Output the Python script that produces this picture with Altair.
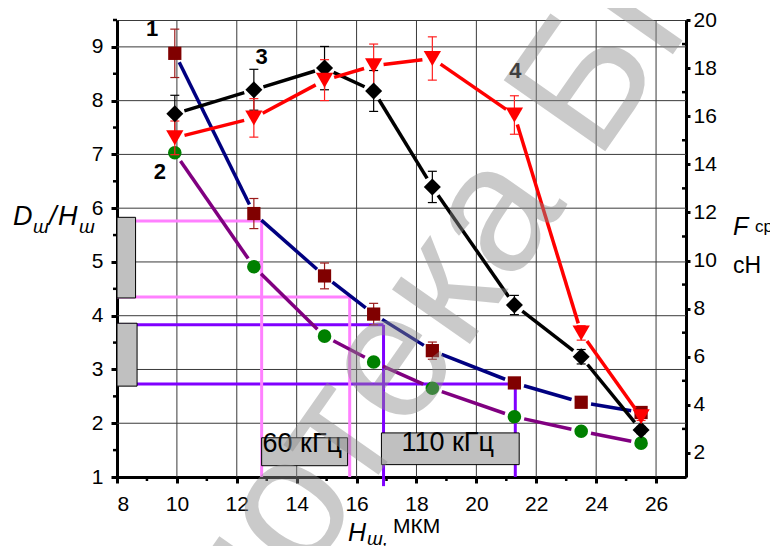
import altair as alt
import pandas as pd

# ---------------- data ----------------
H_sh = [9.93, 12.57, 14.93, 16.57, 18.53, 21.27, 23.5, 25.5]          # x, мкм

dh_1 = [8.88, 5.90, 4.74, 4.03, 3.35, 2.75, 2.39, 2.20]              # curve 1 (left axis)
dh_1_err = [0.45, 0.28, 0.24, 0.20, 0.16, 0.06, 0.05, 0.05]
dh_2 = [7.03, 4.91, 3.62, 3.14, 2.65, 2.12, 1.85, 1.63]              # curve 2 (left axis)

f_3 = [16.1, 17.1, 18.0, 17.05, 13.06, 8.15, 6.0, 2.95]              # curve 3 (right axis)
f_3_err = [0.77, 0.85, 0.9, 0.85, 0.65, 0.4, 0.3, 0.15]
f_4 = [15.1, 15.93, 17.5, 18.1, 18.4, 16.05, 6.99, 3.5]              # curve 4 (right axis)
f_4_err = [0.7, 0.8, 0.85, 0.9, 0.9, 0.8, 0.3, 0.15]

x_ticks = [8, 10, 12, 14, 16, 18, 20, 22, 24, 26]
x_minor = [9, 11, 13, 15, 17, 19, 21, 23, 25]
x_grid = [10, 12, 14, 16, 18, 20, 22, 24, 26]
yl_ticks = [1, 2, 3, 4, 5, 6, 7, 8, 9]
yl_minor = [1.5, 2.5, 3.5, 4.5, 5.5, 6.5, 7.5, 8.5, 9.5]
yl_grid = [2, 3, 4, 5, 6, 7, 8, 9]
yr_ticks = [2, 4, 6, 8, 10, 12, 14, 16, 18, 20]
yr_minor = [3, 5, 7, 9, 11, 13, 15, 17, 19]

curve_labels = ["1", "2", "3", "4"]
curve_label_x = [9.17, 9.43, 12.83, 21.3]
curve_label_y = [9.33, 6.67, 8.81, 8.56]

# frequency guides (left-axis units)
guide_h_x1 = [8, 8, 8, 8]
guide_h_x2 = [12.83, 15.77, 16.9, 21.3]
guide_h_y = [5.76, 4.35, 3.83, 2.73]
guide_v_x = [12.83, 15.77, 16.9, 21.3]
guide_v_y1 = [5.76, 4.35, 3.83, 2.73]
guide_v_y2 = [1.0, 1.0, 0.83, 1.0]
guide_color = ["#FF80FF", "#FF80FF", "#8000FF", "#8000FF"]

box_x1 = [8.0, 8.0, 12.83, 16.83]
box_x2 = [8.62, 8.67, 15.7, 21.43]
box_y1 = [4.33, 2.69, 1.21, 1.23]
box_y2 = [5.83, 3.86, 1.73, 1.82]

freq_text = ["60 кГц", "110 кГц"]
freq_x = [12.86, 17.5]
freq_y = [1.62, 1.64]

watermark = ["Библиотека БГТУ"]
wm_x = [16.9]
wm_y = [5.3]

# ---------------- geometry ----------------
W, Hh = 569, 457
XD, YL, YR = [8, 27], [1, 9.5], [1, 20]
PX = W / (XD[1] - XD[0])
PYL = Hh / (YL[1] - YL[0])
PYR = Hh / (YR[1] - YR[0])
GAP = 10
FONT = "Liberation Sans"
GRID = "#3A3A3A"

xs = alt.Scale(domain=XD, nice=False, zero=False)
yls = alt.Scale(domain=YL, nice=False, zero=False)
yrs = alt.Scale(domain=YR, nice=False, zero=False)

axis_common = dict(domainColor="black", domainWidth=3, tickColor="black", tickWidth=3,
                   labelFont=FONT, labelFontSize=21, labelColor="black", title=None,
                   grid=False)
AX = alt.Axis(values=x_ticks, tickSize=6, labelPadding=10, **axis_common)
AYL = alt.Axis(values=yl_ticks, tickSize=6, labelPadding=8, **axis_common)
AYR = alt.Axis(orient="right", values=yr_ticks, tickSize=4, labelPadding=3, **axis_common)


def X(f):
    return alt.X(f, scale=xs, axis=AX)


def Y(f, ysc):
    return alt.Y(f, scale=ysc, axis=AYL if ysc is yls else AYR)


def sdf(ys, errs=None):
    d = {"x": H_sh, "y": ys}
    d["e"] = errs if errs is not None else [0] * len(ys)
    return pd.DataFrame(d)


d1, d2, d3, d4 = sdf(dh_1, dh_1_err), sdf(dh_2), sdf(f_3, f_3_err), sdf(f_4, f_4_err)


def segs(df, ysc, py, color):
    return alt.Chart(df).transform_window(
        nx="lead(x)", ny="lead(y)", sort=[alt.SortField("x")], frame=[None, None]
    ).transform_filter("isValid(datum.nx)").transform_calculate(
        L=f"sqrt(pow((datum.nx-datum.x)*{PX},2)+pow((datum.ny-datum.y)*{py},2))"
    ).transform_calculate(
        f=f"{GAP}/datum.L"
    ).transform_calculate(
        xa="datum.x+(datum.nx-datum.x)*datum.f",
        ya="datum.y+(datum.ny-datum.y)*datum.f",
        xb="datum.nx-(datum.nx-datum.x)*datum.f",
        yb="datum.ny-(datum.ny-datum.y)*datum.f",
    ).mark_rule(color=color, strokeWidth=3.5).encode(
        x=X("xa:Q"), y=Y("ya:Q", ysc), x2="xb:Q", y2="yb:Q",
    )


def errs(df, ysc, color):
    base = alt.Chart(df).transform_calculate(lo="datum.y-datum.e", hi="datum.y+datum.e")
    r = base.mark_rule(color=color, strokeWidth=1.2).encode(
        x=X("x:Q"), y=Y("lo:Q", ysc), y2="hi:Q")
    c1 = base.mark_rule(color=color, strokeWidth=1.2, xOffset=-4.5, x2Offset=4.5).encode(
        x=X("x:Q"), x2="x:Q", y=Y("lo:Q", ysc))
    c2 = base.mark_rule(color=color, strokeWidth=1.2, xOffset=-4.5, x2Offset=4.5).encode(
        x=X("x:Q"), x2="x:Q", y=Y("hi:Q", ysc))
    return [r, c1, c2]


def marks(df, ysc, shape, size, color):
    return alt.Chart(df).mark_point(shape=shape, size=size, filled=True, opacity=1,
                                    color=color, strokeWidth=0).encode(
        x=X("x:Q"), y=Y("y:Q", ysc))


def txt(t, px, py, size, style="normal", weight="normal", align="left"):
    return alt.Chart(pd.DataFrame({"t": [t]})).mark_text(
        font=FONT, fontSize=size, fontStyle=style, fontWeight=weight, align=align,
        baseline="alphabetic", color="black").encode(
        x=alt.value(px), y=alt.value(py), text="t:N")


grid_x = alt.Chart(pd.DataFrame({"v": x_grid})).mark_rule(color=GRID, strokeWidth=1).encode(
    x=X("v:Q"), y=alt.value(0), y2=alt.value(Hh))
grid_y = alt.Chart(pd.DataFrame({"v": yl_grid})).mark_rule(color=GRID, strokeWidth=1).encode(
    y=Y("v:Q", yls), x=alt.value(0), x2=alt.value(W))
minor_x = alt.Chart(pd.DataFrame({"v": x_minor})).mark_rule(color="black", strokeWidth=2.5).encode(
    x=X("v:Q"), y=alt.value(Hh), y2=alt.value(Hh + 4))
minor_yl = alt.Chart(pd.DataFrame({"v": yl_minor})).mark_rule(color="black", strokeWidth=2.5).encode(
    y=Y("v:Q", yls), x=alt.value(-4), x2=alt.value(0))

guides_h = alt.Chart(pd.DataFrame({"x1": guide_h_x1, "x2": guide_h_x2, "y": guide_h_y, "c": guide_color})
                     ).mark_rule(strokeWidth=3).encode(
    x=X("x1:Q"), x2="x2:Q", y=Y("y:Q", yls), color=alt.Color("c:N", scale=None))
guides_v = alt.Chart(pd.DataFrame({"x": guide_v_x, "y1": guide_v_y1, "y2": guide_v_y2, "c": guide_color})
                     ).mark_rule(strokeWidth=3).encode(
    x=X("x:Q"), y=Y("y1:Q", yls), y2="y2:Q", color=alt.Color("c:N", scale=None))
boxes = alt.Chart(pd.DataFrame({"x1": box_x1, "x2": box_x2, "y1": box_y1, "y2": box_y2})
                  ).mark_rect(fill="#C0C0C0", stroke="black", strokeWidth=1).encode(
    x=X("x1:Q"), x2="x2:Q", y=Y("y1:Q", yls), y2="y2:Q")
freq_labels = alt.Chart(pd.DataFrame({"t": freq_text, "x": freq_x, "y": freq_y})).mark_text(
    font=FONT, fontSize=27, align="left", baseline="middle", color="black").encode(
    x=X("x:Q"), y=Y("y:Q", yls), text="t:N")
num_labels = alt.Chart(pd.DataFrame({"t": curve_labels, "x": curve_label_x, "y": curve_label_y})
                       ).mark_text(font=FONT, fontSize=22, fontWeight="bold", align="center",
                                   baseline="middle", color="black").encode(
    x=X("x:Q"), y=Y("y:Q", yls), text="t:N")

left = alt.layer(
    grid_x, grid_y, minor_x, minor_yl, guides_h, guides_v, boxes,
    segs(d1, yls, PYL, "#000080"), segs(d2, yls, PYL, "#800080"),
    *errs(d1, yls, "#9B1B1B"),
    marks(d1, yls, "square", 175, "#800000"),
    marks(d2, yls, "circle", 185, "#008000"),
    num_labels, freq_labels,
    txt("D", -104, 205, 27, "italic"), txt("ш", -84, 213, 19, "italic"),
    txt("/", -68, 205, 27, "italic"), txt("H", -59, 205, 27, "italic"),
    txt("ш", -38, 213, 19, "italic"),
    txt("H", 231, 521, 25, "italic"), txt("ш,", 250, 525, 19, "italic"),
    txt("МКМ", 276, 513, 21),
)

minor_yr = alt.Chart(pd.DataFrame({"v": yr_minor})).mark_rule(color="black", strokeWidth=2.5).encode(
    y=Y("v:Q", yrs), x=alt.value(W - 4), x2=alt.value(W))
wm = alt.Chart(pd.DataFrame({"t": watermark, "x": wm_x, "y": wm_y})).mark_text(
    font=FONT, fontSize=180, angle=305, align="center", baseline="middle",
    color="#8C8C8C", opacity=0.45).encode(
    x=X("x:Q"), y=Y("y:Q", yrs), text="t:N")

right = alt.layer(
    minor_yr,
    segs(d3, yrs, PYR, "black"), segs(d4, yrs, PYR, "#FF0000"),
    *errs(d3, yrs, "black"), *errs(d4, yrs, "#FF2020"),
    marks(d3, yrs, "diamond", 290, "black"),
    marks(d4, yrs, "triangle-down", 300, "#FF0000"),
    wm,
    txt("F", 616, 215, 25, "italic"), txt("ср·,", 638, 212, 17),
    txt("cH", 616, 253, 23),
)

chart = alt.layer(left, right).resolve_scale(y="independent").properties(
    width=W, height=Hh,
    autosize=alt.AutoSizeParams(type="none"),
    padding={"left": 109, "top": 12, "right": 84, "bottom": 69},
    background="white",
).configure_view(stroke=GRID, strokeWidth=1)

chart.save("out.html", embed_options={"renderer": "svg", "actions": False})
